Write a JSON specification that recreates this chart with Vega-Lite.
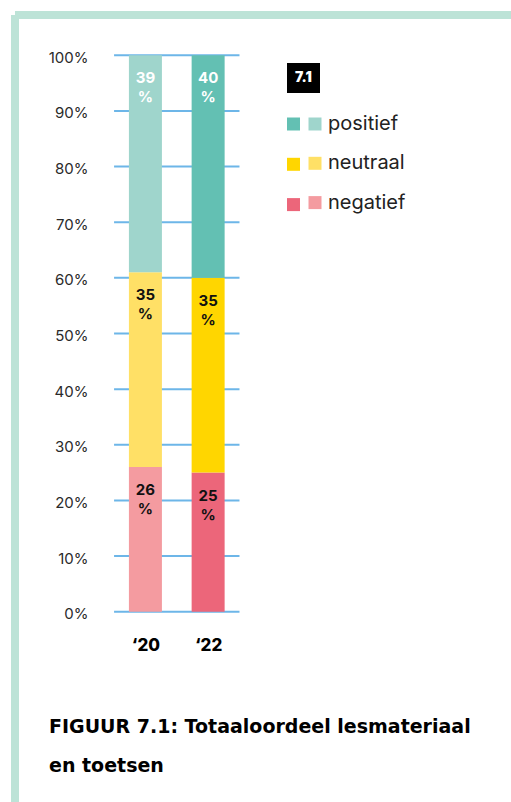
{
  "$schema": "https://vega.github.io/schema/vega-lite/v6.json",
  "width": 496,
  "height": 787,
  "autosize": {"type": "none"},
  "padding": {"left": 15, "top": 15, "right": 0, "bottom": 0},
  "background": "white",
  "config": {
    "font": "Inter",
    "view": {"stroke": "#bde3d7", "strokeWidth": 8, "strokeDash": [496, 1283, 787, 0]}
  },
  "title": {
    "text": ["FIGUUR 7.1: Totaaloordeel lesmateriaal", "en toetsen"],
    "orient": "top",
    "anchor": "start",
    "frame": "group",
    "offset": 0,
    "dx": 34,
    "dy": 776,
    "baseline": "alphabetic",
    "font": "DejaVu Sans",
    "fontSize": 19,
    "fontWeight": 800,
    "color": "#000000",
    "lineHeight": 39
  },
  "data": {
    "values": [
      {"year": 2020, "category": "negatief", "rank": 1, "value": 26},
      {"year": 2020, "category": "neutraal", "rank": 2, "value": 35},
      {"year": 2020, "category": "positief", "rank": 3, "value": 39},
      {"year": 2022, "category": "negatief", "rank": 1, "value": 25},
      {"year": 2022, "category": "neutraal", "rank": 2, "value": 35},
      {"year": 2022, "category": "positief", "rank": 3, "value": 40}
    ]
  },
  "layer": [
    {
      "data": {"values": [{"tick": 0}, {"tick": 10}, {"tick": 20}, {"tick": 30}, {"tick": 40}, {"tick": 50}, {"tick": 60}, {"tick": 70}, {"tick": 80}, {"tick": 90}, {"tick": 100}]},
      "mark": {"type": "rule", "color": "#6db6e8", "strokeWidth": 2},
      "encoding": {
        "y": {
          "field": "tick", "type": "quantitative",
          "scale": {"domain": [-34.2, 107.24], "nice": false, "zero": false},
          "axis": {
            "values": [0, 10, 20, 30, 40, 50, 60, 70, 80, 90, 100],
            "labelExpr": "datum.value + '%'",
            "orient": "left", "offset": -73, "domain": false, "ticks": false, "grid": false,
            "labelPadding": 0, "labelAlign": "right", "labelBaseline": "middle", "labelOffset": 2,
            "labelFontSize": 15, "labelColor": "#2a2a2a", "title": null
          }
        },
        "x": {
          "datum": 2019, "type": "quantitative",
          "scale": {"domain": [2016, 2031.5], "nice": false, "zero": false},
          "axis": {
            "values": [2020, 2022],
            "labelExpr": "'‘' + substring(toString(datum.value), 2, 4)",
            "orient": "bottom", "offset": -152, "domain": false, "ticks": false, "grid": false,
            "labelPadding": 0, "labelBaseline": "alphabetic", "labelFontSize": 17, "labelFontWeight": 800,
            "labelColor": "#000000", "title": null
          }
        },
        "x2": {"datum": 2023}
      }
    },
    {
      "transform": [
        {"stack": "value", "groupby": ["year"], "sort": [{"field": "rank", "order": "ascending"}], "as": ["y0", "y1"]},
        {"filter": "datum.year === 2020"}
      ],
      "mark": {"type": "bar", "width": 33},
      "encoding": {
        "x": {"field": "year", "type": "quantitative", "scale": {"domain": [2016, 2031.5], "nice": false, "zero": false}, "title": null},
        "y": {"field": "y1", "type": "quantitative", "stack": null, "scale": {"domain": [-34.2, 107.24], "nice": false, "zero": false}, "title": null},
        "y2": {"field": "y0"},
        "color": {
          "field": "category", "type": "nominal",
          "scale": {"domain": ["positief", "neutraal", "negatief"], "range": ["#9fd5cc", "#ffe066", "#f49ba0"]},
          "legend": {
            "orient": "none", "legendX": 290, "legendY": 99, "title": null, "direction": "vertical",
            "symbolType": "square", "symbolSize": 169, "symbolStrokeWidth": 0, "symbolOpacity": 1,
            "labelFontSize": 20, "labelColor": "#222222", "labelOffset": 3, "rowPadding": 19.3,
            "padding": 0, "labelBaseline": "middle"
          }
        }
      }
    },
    {
      "transform": [
        {"stack": "value", "groupby": ["year"], "sort": [{"field": "rank", "order": "ascending"}], "as": ["y0", "y1"]},
        {"filter": "datum.year === 2022"}
      ],
      "mark": {"type": "bar", "width": 33},
      "encoding": {
        "x": {"field": "year", "type": "quantitative", "scale": {"domain": [2016, 2031.5], "nice": false, "zero": false}, "title": null},
        "y": {"field": "y1", "type": "quantitative", "stack": null, "scale": {"domain": [-34.2, 107.24], "nice": false, "zero": false}, "title": null},
        "y2": {"field": "y0"},
        "color": {
          "field": "category", "type": "nominal",
          "scale": {"domain": ["positief", "neutraal", "negatief"], "range": ["#63c0b3", "#ffd600", "#ec667a"]},
          "legend": {
            "orient": "none", "legendX": 272, "legendY": 102.5, "title": null, "direction": "vertical",
            "symbolType": "square", "symbolSize": 169, "symbolStrokeWidth": 0, "symbolOpacity": 1,
            "labelExpr": "''", "labelFontSize": 13, "labelOffset": 0, "rowPadding": 26.3,
            "padding": 0, "labelBaseline": "middle"
          }
        }
      }
    },
    {
      "transform": [
        {"stack": "value", "groupby": ["year"], "sort": [{"field": "rank", "order": "ascending"}], "as": ["y0", "y1"]},
        {"calculate": "datum.value + '\\n%'", "as": "label"}
      ],
      "mark": {"type": "text", "lineBreak": "\n", "lineHeight": 19, "fontSize": 15, "fontWeight": 700, "baseline": "alphabetic", "align": "center", "dy": 28},
      "encoding": {
        "x": {"field": "year", "type": "quantitative", "scale": {"domain": [2016, 2031.5], "nice": false, "zero": false}, "title": null},
        "y": {"field": "y1", "type": "quantitative", "stack": null, "scale": {"domain": [-34.2, 107.24], "nice": false, "zero": false}, "title": null},
        "text": {"field": "label"},
        "color": {"condition": {"test": "datum.category === 'positief'", "value": "#ffffff"}, "value": "#111111"},
        "opacity": {
          "field": "year", "type": "nominal",
          "scale": {"range": [1, 1]},
          "legend": {
            "orient": "none", "legendX": 272, "legendY": 48, "title": "7.1", "values": [],
            "fillColor": "#000000", "padding": 8, "titleColor": "#ffffff", "titleFontSize": 14,
            "titleFontWeight": 900, "titlePadding": 0, "symbolOpacity": 0, "labelOpacity": 0
          }
        }
      }
    }
  ],
  "resolve": {"scale": {"color": "independent"}, "legend": {"color": "independent"}}
}
